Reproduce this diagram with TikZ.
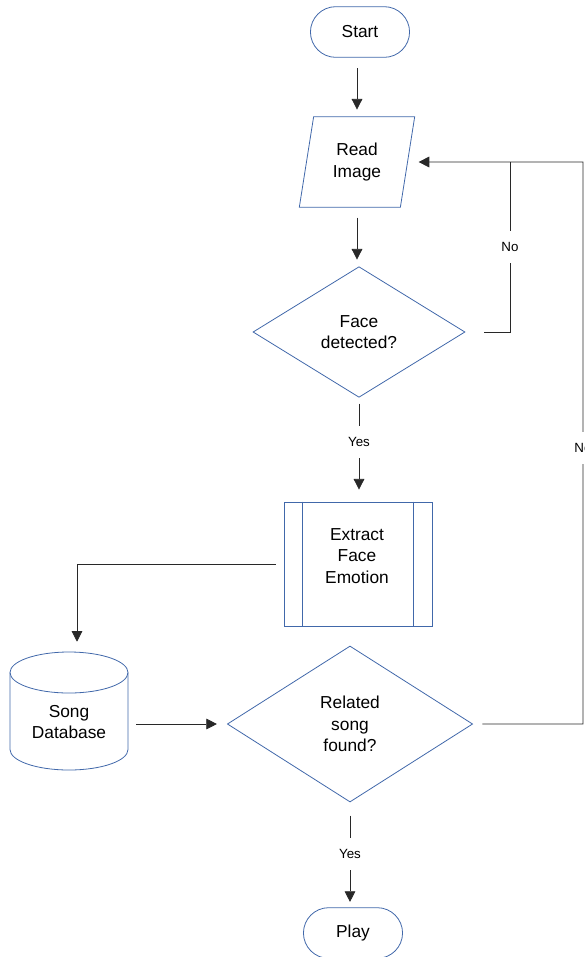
\documentclass[tikz,border=0pt]{standalone}
\usepackage{fontspec}
\setmainfont{Liberation Sans}
\usetikzlibrary{arrows.meta,calc,shapes.geometric,shapes.misc}
\definecolor{shapeblue}{RGB}{65,104,170}
\definecolor{linegray}{RGB}{40,40,40}

\begin{document}
\begin{tikzpicture}[x=0.75pt,y=-0.75pt,
flowbox/.style={draw=shapeblue,line width=0.6pt,font=\fontsize{13pt}{16pt}\selectfont,align=center},
terminal/.style={flowbox,rounded rectangle,minimum width=81pt,minimum height=38pt},
iobox/.style={flowbox,trapezium,trapezium stretches=true,trapezium left angle=78,trapezium right angle=102,minimum width=87pt,minimum height=68pt,inner sep=0pt},
decision/.style={flowbox,diamond,inner sep=0pt},
procbox/.style={flowbox,rectangle,minimum width=111pt,minimum height=93pt},
dbspace/.style={minimum width=88.5pt,minimum height=88.5pt,inner sep=0pt},
txt/.style={font=\fontsize{13pt}{16pt}\selectfont,align=center},
flow/.style={draw=linegray,line width=0.6pt,-{Triangle[length=8pt,width=8pt]}},
yesno/.style={fill=white,font=\fontsize{10pt}{12pt}\selectfont,inner xsep=1pt,inner ysep=0pt,minimum height=24pt}
]

\useasboundingbox (0,0) rectangle (585,957);

% Flow shapes
\node[terminal] (start) at (360,32){Start};
\node[iobox] (read) at (357,162){Read\\Image};
\node[decision,minimum width=159pt,minimum height=98pt] (face) at (359,332){Face\\detected?};
\node[procbox] (extract) at (358,564){};
\node[txt] (extracttext) at (357,556){Extract\\Face\\Emotion};
\node[dbspace] (songdb) at (69,711){};
\node[txt] (songdbtext) at (69,722){Song\\Database};
\node[decision,minimum width=184pt,minimum height=117pt] (related) at (350,724){Related\\song\\found?};
\node[terminal] (play) at (353,933){Play};

% Side bars of the process box
\draw[shapeblue,line width=0.6pt] ($(extract.north west)+(19,0)$)--($(extract.south west)+(19,0)$);
\draw[shapeblue,line width=0.6pt] ($(extract.north east)+(-19,0)$)--($(extract.south east)+(-19,0)$);

% Database cylinder
\draw[shapeblue,line width=0.6pt] (69,672.5) ellipse[x radius=59,y radius=20.5];
\draw[shapeblue,line width=0.6pt] (10,672.5)--(10,749.5) arc[start angle=180,end angle=0,x radius=59,y radius=20.5]--(128,672.5);

% Loop corners
\coordinate (facejoin) at (510,162);
\coordinate (looptop) at (583,162);

% Main flow
\draw[flow,shorten <=8pt,shorten >=5pt] (start.south -| read.north)--(read.north);
\draw[flow,shorten <=7.5pt,shorten >=5pt] (read.south)--(read.south |- face.north);
\draw[flow,shorten <=4.5pt,shorten >=9pt] (face.south)--node[yesno,pos=0.43]{Yes}(face.south |- extract.north);
\draw[flow,shorten <=6pt,shorten >=7.5pt] (extract.west)-|([xshift=6pt]songdb.north);
\draw[flow,shorten <=6pt,shorten >=7.5pt] (songdb.east |- related.west)--(related.west);
\draw[flow,shorten <=10pt,shorten >=4pt] (related.south)--node[yesno,pos=0.49]{Yes}(related.south |- play.north);

% No branches back to the input
\draw[draw=linegray,line width=0.6pt,shorten <=14pt] (face.east)-|node[yesno,pos=0.75]{No}(facejoin);
\draw[flow,shorten <=7pt,shorten >=8pt] (related.east)-|node[yesno,pos=0.746]{No}(looptop)--(read.east);

\end{tikzpicture}
\end{document}
